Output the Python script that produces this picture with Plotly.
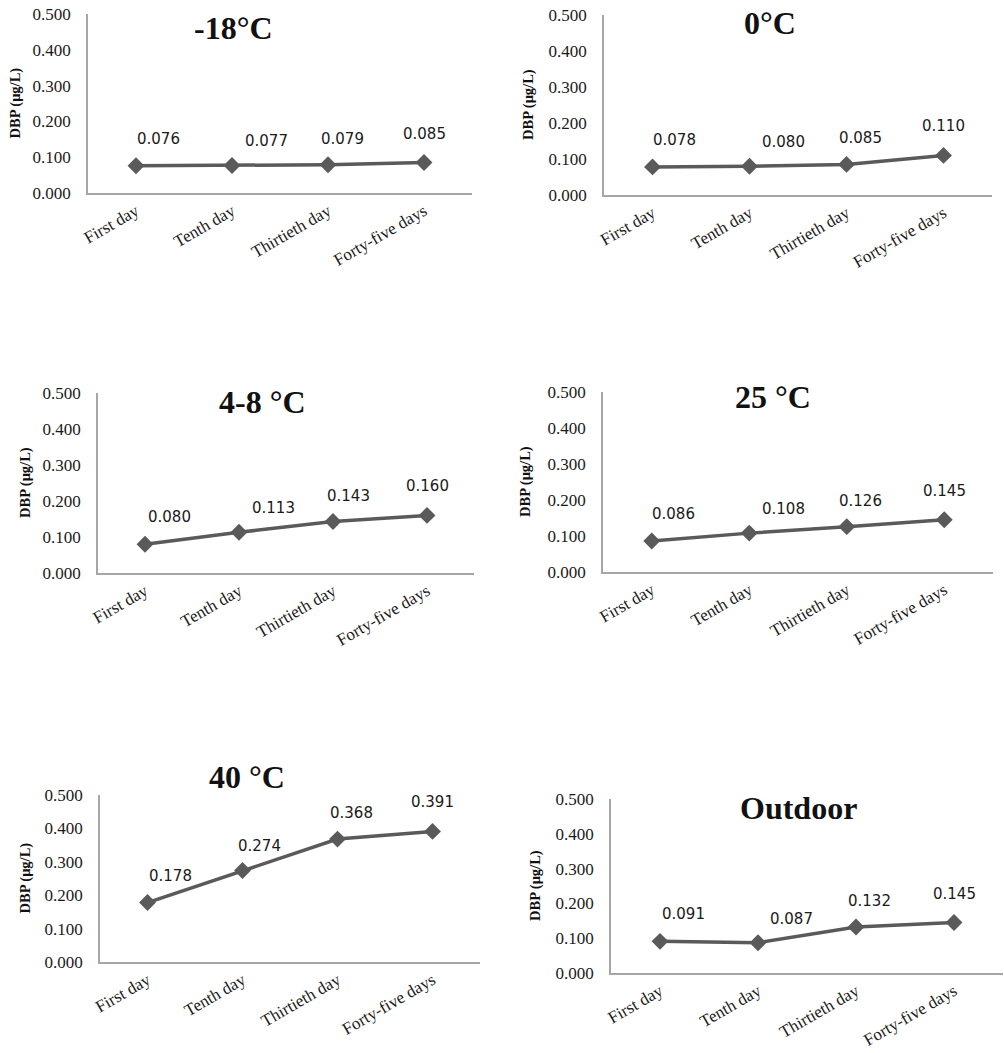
import plotly.graph_objects as go

# ---------------- data ----------------
categories = ["First day", "Tenth day", "Thirtieth day", "Forty-five days"]
panel_titles = ["-18°C", "0°C", "4-8 °C", "25 °C", "40 °C", "Outdoor"]
v_minus18 = [0.076, 0.077, 0.079, 0.085]
v_0 = [0.078, 0.080, 0.085, 0.110]
v_4_8 = [0.080, 0.113, 0.143, 0.160]
v_25 = [0.086, 0.108, 0.126, 0.145]
v_40 = [0.178, 0.274, 0.368, 0.391]
v_outdoor = [0.091, 0.087, 0.132, 0.145]
y_tickvals = [0.0, 0.1, 0.2, 0.3, 0.4, 0.5]
y_ticktext = ["0.000", "0.100", "0.200", "0.300", "0.400", "0.500"]
y_title = "DBP (μg/L)"
series = [v_minus18, v_0, v_4_8, v_25, v_40, v_outdoor]

# ---------------- layout (pixels) ----------------
W, H = 1004, 1053
# plot boxes: x0, x1, y0(top), y1(bottom)
boxes = [
    (88, 472, 14, 193),
    (604, 992, 15, 195),
    (98, 474, 393, 573),
    (603, 993, 392, 572),
    (100, 480, 795, 962),
    (611, 1003, 799, 973),
]
title_pos = [(233, 28), (770, 23), (262, 402), (773, 397), (247, 777), (798, 808)]
ytitle_x = [15, 528, 25, 525, 25, 535]
label_dx = [
    [22, 34, 14, 0],
    [22, 34, 14, 0],
    [24, 34, 15, 0],
    [22, 34, 14, 0],
    [23, 17, 14, 0],
    [23, 33, 13, 0],
]
label_dy = [27, 24, 26, 29]

LINE = "#5a5a5a"
AXIS = "#a6a6a6"
SERIF = "Liberation Serif"

fig = go.Figure()
annotations = []
layout_axes = {}

for i, vals in enumerate(series):
    n = i + 1
    xa = "x" if n == 1 else f"x{n}"
    ya = "y" if n == 1 else f"y{n}"
    x0, x1, y0, y1 = boxes[i]
    fig.add_trace(go.Scatter(
        x=categories, y=vals, xaxis=xa, yaxis=ya,
        mode="lines+markers",
        line=dict(color=LINE, width=3.5),
        marker=dict(symbol="diamond", size=13, color=LINE),
        showlegend=False, hoverinfo="skip",
    ))
    layout_axes[("xaxis" if n == 1 else f"xaxis{n}")] = dict(
        domain=[x0 / W, x1 / W], anchor=ya, type="category",
        range=[-0.5, 3.5], showgrid=False, zeroline=False,
        showline=True, linecolor=AXIS, linewidth=1.5,
        ticks="", tickangle=-30, automargin=False,
        tickfont=dict(family=SERIF, size=17, color="#1a1a1a"),
        fixedrange=True,
    )
    layout_axes[("yaxis" if n == 1 else f"yaxis{n}")] = dict(
        domain=[1 - y1 / H, 1 - y0 / H], anchor=xa,
        range=[0, 0.5], tickvals=y_tickvals, ticktext=y_ticktext,
        showgrid=False, zeroline=False,
        showline=True, linecolor=AXIS, linewidth=1.5,
        ticks="", ticklabelstandoff=12, automargin=False,
        tickfont=dict(family=SERIF, size=17, color="#1a1a1a"),
        fixedrange=True,
    )
    # value labels
    for j, (c, v) in enumerate(zip(categories, vals)):
        annotations.append(dict(
            x=c, y=v, xref=xa, yref=ya, text=f"{v:.3f}",
            showarrow=False, xshift=label_dx[i][j], yshift=label_dy[j],
            font=dict(family="DejaVu Sans", size=15, color="#1a1a1a"),
        ))
    # panel title
    tx, ty = title_pos[i]
    annotations.append(dict(
        x=tx / W, y=1 - ty / H, xref="paper", yref="paper",
        text=f"<b>{panel_titles[i]}</b>", showarrow=False,
        xanchor="center", yanchor="middle",
        font=dict(family=SERIF, size=32, color="#111"),
    ))
    # y axis title
    annotations.append(dict(
        x=ytitle_x[i] / W, y=1 - (y0 + y1) / 2 / H, xref="paper", yref="paper",
        text=f"<b>{y_title}</b>", showarrow=False, textangle=-90,
        xanchor="center", yanchor="middle",
        font=dict(family=SERIF, size=14.5, color="#111"),
    ))

fig.update_layout(
    width=W, height=H,
    margin=dict(l=0, r=0, t=0, b=0, autoexpand=False),
    paper_bgcolor="white", plot_bgcolor="white",
    annotations=annotations,
    **layout_axes,
)

fig.write_html("out.html", config={"displayModeBar": False})
